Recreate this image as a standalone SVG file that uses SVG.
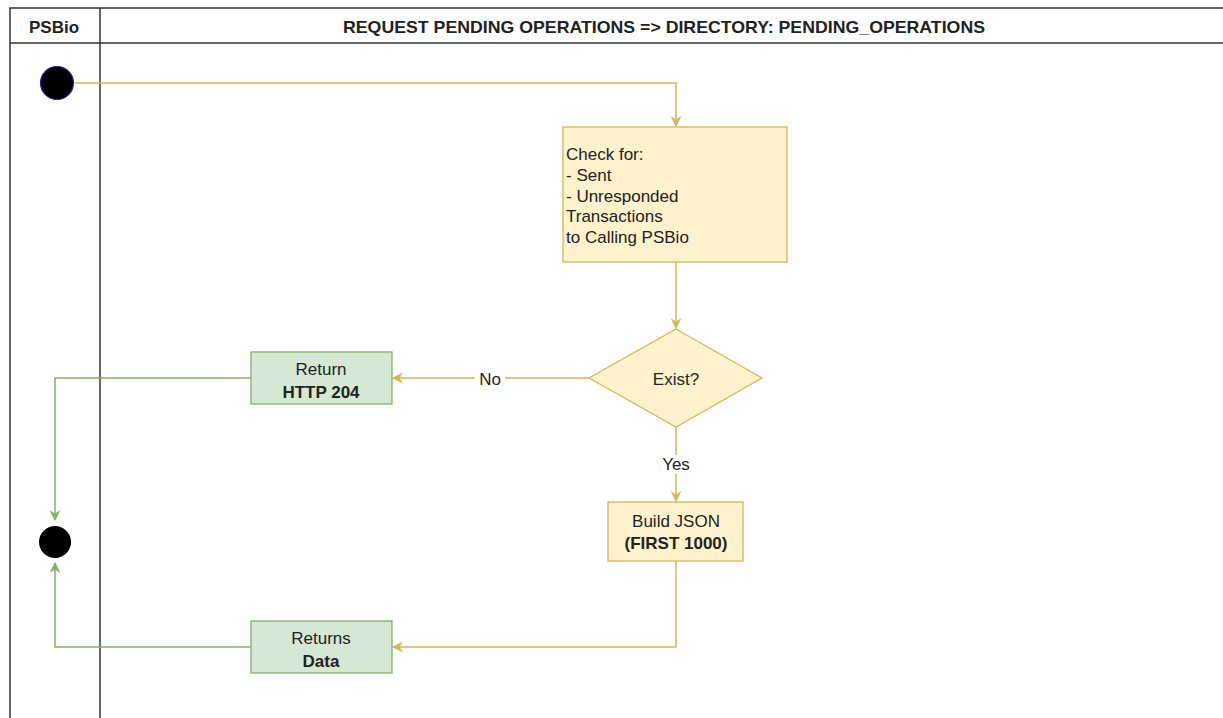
<svg xmlns="http://www.w3.org/2000/svg" width="1223" height="718" viewBox="0 0 1223 718">
<defs>
<marker id="ay" viewBox="0 0 10 10" refX="9" refY="5" markerWidth="11" markerHeight="11" orient="auto" markerUnits="userSpaceOnUse">
<path d="M0,0 L10,5 L0,10 L3,5 Z" fill="#d6b656"/>
</marker>
<marker id="ag" viewBox="0 0 10 10" refX="9" refY="5" markerWidth="11" markerHeight="11" orient="auto" markerUnits="userSpaceOnUse">
<path d="M0,0 L10,5 L0,10 L3,5 Z" fill="#82b366"/>
</marker>
<style>
text{font-family:"Liberation Sans",Arial,sans-serif;fill:#222}
.frame{fill:none;stroke:#333;stroke-width:1.5}
.y{fill:#fff2cc;stroke:#d6b656;stroke-width:1.3}
.g{fill:#d5e8d4;stroke:#82b366;stroke-width:1.3}
.cy{fill:none;stroke:#d6b656;stroke-width:1.5}
.cg{fill:none;stroke:#82b366;stroke-width:1.5}
.t{font-size:17px}
.c{text-anchor:middle}
.b{font-weight:bold}
</style>
</defs>
<rect width="1223" height="718" fill="#fff"/>
<g id="frame">
<path class="frame" d="M10,725 L10,8 L1230,8"/>
<line class="frame" x1="10" y1="43" x2="1230" y2="43"/>
<line class="frame" x1="100" y1="8" x2="100" y2="725"/>
<text x="54" y="33" class="c b" font-size="17">PSBio</text>
<text x="343" y="33" class="b" font-size="17" textLength="642" lengthAdjust="spacingAndGlyphs">REQUEST PENDING OPERATIONS =&gt; DIRECTORY: PENDING_OPERATIONS</text>
</g>
<g id="connectors">
<path class="cy" d="M75,83 L676,83 L676,126" marker-end="url(#ay)"/>
<path class="cy" d="M676,262 L676,328" marker-end="url(#ay)"/>
<path class="cy" d="M589,378 L393,378" marker-end="url(#ay)"/>
<rect x="475" y="369" width="30" height="19" fill="#fff"/>
<text x="490" y="385" class="t c">No</text>
<path class="cy" d="M676,427 L676,501" marker-end="url(#ay)"/>
<rect x="657" y="455" width="38" height="19" fill="#fff"/>
<text x="676" y="470" class="t c">Yes</text>
<path class="cy" d="M676,561 L676,647 L393,647" marker-end="url(#ay)"/>
<path class="cg" d="M251,378 L55,378 L55,520" marker-end="url(#ag)"/>
<path class="cg" d="M251,647 L55,647 L55,563" marker-end="url(#ag)"/>
</g>
<g id="start">
<circle cx="57" cy="83" r="16.5" fill="#000" stroke="#22229a" stroke-width="1.2"/>
</g>
<g id="check">
<rect class="y" x="563" y="127" width="224" height="135"/>
<text class="t" x="566" y="160">Check for:</text>
<text class="t" x="566" y="181">- Sent</text>
<text class="t" x="566" y="202">- Unresponded</text>
<text class="t" x="566" y="222">Transactions</text>
<text class="t" x="566" y="243">to Calling PSBio</text>
</g>
<g id="exist">
<polygon class="y" points="676,329 762,378 676,427 589,378"/>
<text class="t c" x="676" y="385">Exist?</text>
</g>
<g id="build">
<rect class="y" x="608" y="502" width="135" height="59"/>
<text class="t c" x="676" y="527">Build JSON</text>
<text class="t c b" x="676" y="549">(FIRST 1000)</text>
</g>
<g id="return204">
<rect class="g" x="251" y="352" width="141" height="52"/>
<text class="t c" x="321" y="375">Return</text>
<text class="t c b" x="321" y="398">HTTP 204</text>
</g>
<g id="returnsData">
<rect class="g" x="251" y="621" width="141" height="52"/>
<text class="t c" x="321" y="644">Returns</text>
<text class="t c b" x="321" y="667">Data</text>
</g>
<g id="end">
<circle cx="55" cy="542" r="16" fill="#000"/>
</g>
</svg>
